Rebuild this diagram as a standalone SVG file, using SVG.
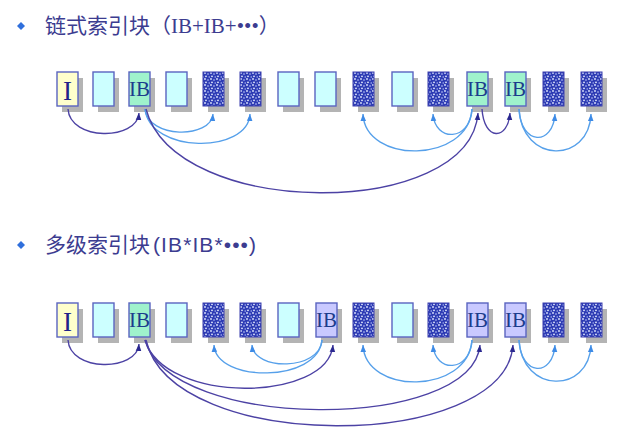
<svg xmlns="http://www.w3.org/2000/svg" width="619" height="435" viewBox="0 0 619 435">
<style>
.sh{fill:#b4b4b4}
.b{stroke:#5a64c0;stroke-width:1.4}
.lt{fill:#ccffff}
.in{fill:#ffffcc}
.ib{fill:#9ff2cc}
.lv{fill:#c9c9ff}
.dt{fill:url(#dots);stroke:#3a3fae;stroke-width:1}
.lbl{font-family:"Liberation Serif","Noto Serif",serif;font-size:21px;fill:#1c3c8c;text-anchor:middle}
.big{font-family:"Liberation Serif",serif;font-size:27px;fill:#22228a;text-anchor:middle}
.dk{fill:none;stroke:#4c42a4;stroke-width:1.4}
.lb{fill:none;stroke:#56a0ea;stroke-width:1.4}
.ttl{font-size:21px;fill:#3c3c90}
.bul{fill:#2f6fdc}
</style>
<defs>
<pattern id="dots" width="6" height="6" patternUnits="userSpaceOnUse">
<rect width="6" height="6" fill="#2e3cb4"/>
<circle cx="1" cy="1" r="0.9" fill="#dfe6ff"/>
<circle cx="4" cy="2" r="0.8" fill="#c8d2ff"/>
<circle cx="2" cy="4.3" r="0.9" fill="#e6ecff"/>
<circle cx="5.2" cy="5" r="0.7" fill="#c0ccff"/>
</pattern>
<marker id="ad" viewBox="0 0 10 10" refX="10" refY="5" markerWidth="7" markerHeight="7" markerUnits="userSpaceOnUse" orient="auto"><path d="M0,1 L10,5 L0,9 z" fill="#2a2890"/></marker>
<marker id="al" viewBox="0 0 10 10" refX="10" refY="5" markerWidth="7" markerHeight="7" markerUnits="userSpaceOnUse" orient="auto"><path d="M0,1 L10,5 L0,9 z" fill="#3d8ae6"/></marker>
</defs>
<rect width="619" height="435" fill="#ffffff"/>

<g id="title1">
<path class="bul" d="M21,22 L25,26 L21,30 L17,26 z"/>
<text class="ttl" x="45" y="33"><tspan font-family="'Noto Sans CJK SC',sans-serif">链式索引块（</tspan><tspan font-family="'Liberation Serif',serif">IB+IB+•••</tspan><tspan font-family="'Noto Sans CJK SC',sans-serif">）</tspan></text>
</g>
<g id="title2">
<path class="bul" d="M21,241 L25,245 L21,249 L17,245 z"/>
<text class="ttl" x="45" y="252"><tspan font-family="'Noto Sans CJK SC',sans-serif">多级索引块</tspan><tspan font-family="'Liberation Sans',sans-serif" dx="3" letter-spacing="1.1">(IB*IB*•••)</tspan></text>
</g>

<!-- Row 1 -->
<g id="r1-1"><rect class="sh" x="62" y="78" width="21" height="34"/><rect class="b in" x="57" y="72" width="21" height="34"/><text class="big" x="67.5" y="100">I</text></g>
<g id="r1-2"><rect class="sh" x="98" y="78" width="21" height="34"/><rect class="b lt" x="93" y="72" width="21" height="34"/></g>
<g id="r1-3"><rect class="sh" x="134" y="78" width="21" height="34"/><rect class="b ib" x="129" y="72" width="21" height="34"/><text class="lbl" x="139.5" y="96">IB</text></g>
<g id="r1-4"><rect class="sh" x="171" y="78" width="21" height="34"/><rect class="b lt" x="166" y="72" width="21" height="34"/></g>
<g id="r1-5"><rect class="sh" x="208" y="78" width="21" height="34"/><rect class="dt" x="203" y="72" width="21" height="34"/></g>
<g id="r1-6"><rect class="sh" x="245" y="78" width="21" height="34"/><rect class="dt" x="240" y="72" width="21" height="34"/></g>
<g id="r1-7"><rect class="sh" x="283" y="78" width="21" height="34"/><rect class="b lt" x="278" y="72" width="21" height="34"/></g>
<g id="r1-8"><rect class="sh" x="320" y="78" width="21" height="34"/><rect class="b lt" x="315" y="72" width="21" height="34"/></g>
<g id="r1-9"><rect class="sh" x="358" y="78" width="21" height="34"/><rect class="dt" x="353" y="72" width="21" height="34"/></g>
<g id="r1-10"><rect class="sh" x="397" y="78" width="21" height="34"/><rect class="b lt" x="392" y="72" width="21" height="34"/></g>
<g id="r1-11"><rect class="sh" x="433" y="78" width="21" height="34"/><rect class="dt" x="428" y="72" width="21" height="34"/></g>
<g id="r1-12"><rect class="sh" x="472" y="78" width="21" height="34"/><rect class="b ib" x="467" y="72" width="21" height="34"/><text class="lbl" x="477.5" y="96">IB</text></g>
<g id="r1-13"><rect class="sh" x="510" y="78" width="21" height="34"/><rect class="b ib" x="505" y="72" width="21" height="34"/><text class="lbl" x="515.5" y="96">IB</text></g>
<g id="r1-14"><rect class="sh" x="548" y="78" width="21" height="34"/><rect class="dt" x="543" y="72" width="21" height="34"/></g>
<g id="r1-15"><rect class="sh" x="586" y="78" width="21" height="34"/><rect class="dt" x="581" y="72" width="21" height="34"/></g>

<!-- Row 2 -->
<g id="r2-1"><rect class="sh" x="62" y="309" width="21" height="34"/><rect class="b in" x="57" y="303" width="21" height="34"/><text class="big" x="67.5" y="331">I</text></g>
<g id="r2-2"><rect class="sh" x="98" y="309" width="21" height="34"/><rect class="b lt" x="93" y="303" width="21" height="34"/></g>
<g id="r2-3"><rect class="sh" x="134" y="309" width="21" height="34"/><rect class="b ib" x="129" y="303" width="21" height="34"/><text class="lbl" x="139.5" y="327">IB</text></g>
<g id="r2-4"><rect class="sh" x="171" y="309" width="21" height="34"/><rect class="b lt" x="166" y="303" width="21" height="34"/></g>
<g id="r2-5"><rect class="sh" x="208" y="309" width="21" height="34"/><rect class="dt" x="203" y="303" width="21" height="34"/></g>
<g id="r2-6"><rect class="sh" x="245" y="309" width="21" height="34"/><rect class="dt" x="240" y="303" width="21" height="34"/></g>
<g id="r2-7"><rect class="sh" x="283" y="309" width="21" height="34"/><rect class="b lt" x="278" y="303" width="21" height="34"/></g>
<g id="r2-8"><rect class="sh" x="321" y="309" width="21" height="34"/><rect class="b lv" x="316" y="303" width="21" height="34"/><text class="lbl" x="326.5" y="327">IB</text></g>
<g id="r2-9"><rect class="sh" x="358" y="309" width="21" height="34"/><rect class="dt" x="353" y="303" width="21" height="34"/></g>
<g id="r2-10"><rect class="sh" x="397" y="309" width="21" height="34"/><rect class="b lt" x="392" y="303" width="21" height="34"/></g>
<g id="r2-11"><rect class="sh" x="433" y="309" width="21" height="34"/><rect class="dt" x="428" y="303" width="21" height="34"/></g>
<g id="r2-12"><rect class="sh" x="472" y="309" width="21" height="34"/><rect class="b lv" x="467" y="303" width="21" height="34"/><text class="lbl" x="477.5" y="327">IB</text></g>
<g id="r2-13"><rect class="sh" x="510" y="309" width="21" height="34"/><rect class="b lv" x="505" y="303" width="21" height="34"/><text class="lbl" x="515.5" y="327">IB</text></g>
<g id="r2-14"><rect class="sh" x="548" y="309" width="21" height="34"/><rect class="dt" x="543" y="303" width="21" height="34"/></g>
<g id="r2-15"><rect class="sh" x="586" y="309" width="21" height="34"/><rect class="dt" x="581" y="303" width="21" height="34"/></g>

<g id="connectors">
<!-- row 1 -->
<path class="dk" marker-end="url(#ad)" d="M68,109 C70,141 137,141 139,113"/>
<path class="lb" marker-end="url(#al)" d="M145,109 C148,139 211,139 213,114"/>
<path class="lb" marker-end="url(#al)" d="M145,109 C150,154 248,154 250,114"/>
<path class="dk" marker-end="url(#ad)" d="M146,109 C175,220 470,220 478,113"/>
<path class="lb" marker-end="url(#al)" d="M472,109 C468,164 365,164 363,114"/>
<path class="lb" marker-end="url(#al)" d="M472,109 C470,142 435,142 433,114"/>
<path class="dk" marker-end="url(#ad)" d="M482,109 C484,141 508,141 510,113"/>
<path class="lb" marker-end="url(#al)" d="M519,109 C521,146 553,146 555,114"/>
<path class="lb" marker-end="url(#al)" d="M519,109 C522,164 589,164 591,114"/>
<!-- row 2 -->
<path class="dk" marker-end="url(#ad)" d="M68,340 C70,372 137,372 139,344"/>
<path class="lb" marker-end="url(#al)" d="M322,340 C318,383 216,383 214,345"/>
<path class="lb" marker-end="url(#al)" d="M322,340 C320,371 254,371 252,345"/>
<path class="dk" marker-end="url(#ad)" d="M145,340 C165,405 328,402 333,345"/>
<path class="dk" marker-end="url(#ad)" d="M145,340 C170,432 472,432 480,345"/>
<path class="dk" marker-end="url(#ad)" d="M146,340 C172,455 505,452 513,345"/>
<path class="lb" marker-end="url(#al)" d="M472,340 C468,395 365,395 363,345"/>
<path class="lb" marker-end="url(#al)" d="M472,340 C470,373 435,373 433,345"/>
<path class="lb" marker-end="url(#al)" d="M519,340 C521,377 553,377 555,345"/>
<path class="lb" marker-end="url(#al)" d="M519,340 C522,394 589,394 591,345"/>
</g>
</svg>
